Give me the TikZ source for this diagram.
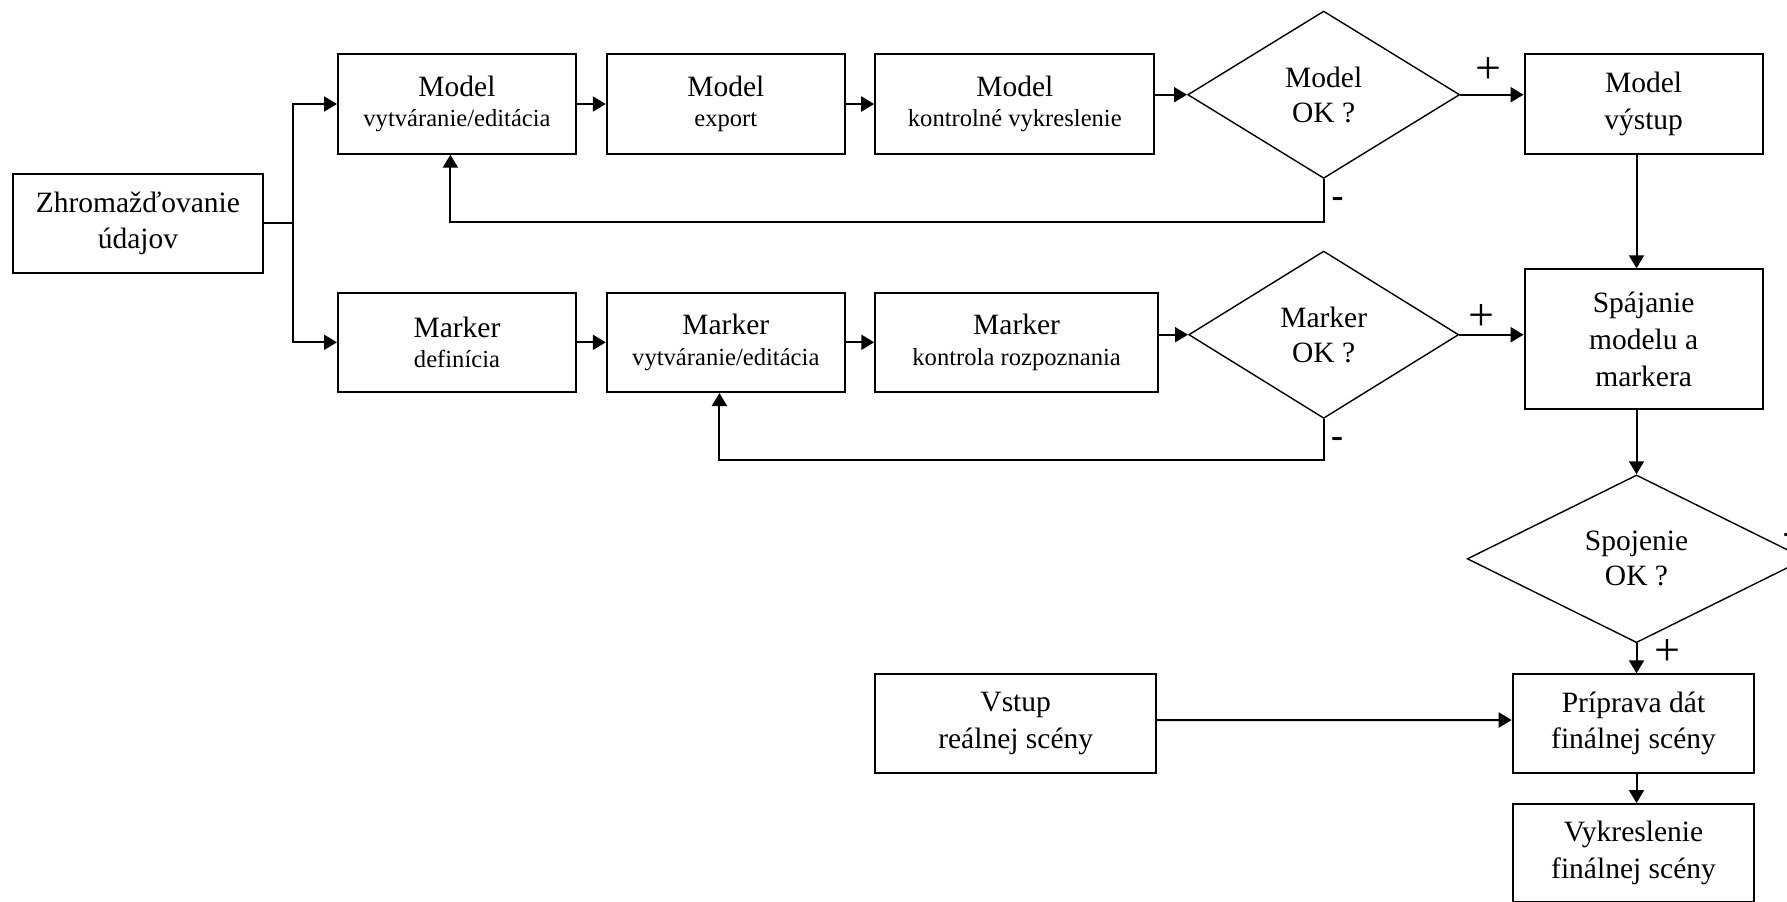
\documentclass[tikz,border=0pt]{standalone}
\usepackage{fontspec}
\setmainfont{Liberation Serif}
\usetikzlibrary{arrows.meta,shapes.geometric,calc}

% second, smaller line inside the process boxes
\newcommand{\subline}[1]{{\fontsize{12.3}{15.35}\selectfont #1}}

\begin{document}
\begin{tikzpicture}[x=0.5pt,y=-0.5pt,
  box/.style={draw,line width=1pt,inner sep=0pt,align=center,
              font=\fontsize{14.75}{18.3}\selectfont},
  twolevel/.style={box,font=\fontsize{14.75}{15.35}\selectfont},
  decision/.style={diamond,draw,line width=0.7pt,inner sep=0pt,align=center,
              font=\fontsize{14.75}{17.5}\selectfont},
  arr/.style={line width=1pt,-{Triangle[length=6.5pt,width=7.5pt]}},
  link/.style={line width=1pt},
  plusmark/.style={inner sep=0pt,font=\fontsize{23}{23}\selectfont},
  minusmark/.style={inner sep=0pt,font=\bfseries\fontsize{18}{18}\selectfont},
]
\useasboundingbox (0,0) rectangle (1787,901);

% data collection
\node[box,minimum width=125.15pt,minimum height=49.5pt] (zh) at (137.9,223.2)
  {Zhromažďovanie\\údajov};

% model branch
\node[twolevel,minimum width=119pt,minimum height=49.7pt] (m1) at (457,104)
  {Model\\\subline{vytváranie/editácia}};
\node[twolevel,minimum width=119pt,minimum height=49.7pt] (m2) at (725.8,104)
  {Model\\\subline{export}};
\node[twolevel,minimum width=139.6pt,minimum height=49.7pt] (m3) at (1014.8,104)
  {Model\\\subline{kontrolné vykreslenie}};
\node[decision,minimum width=136pt,minimum height=83.65pt] (d1) at (1323.7,94.7)
  {Model\\OK ?};
\node[box,minimum width=119pt,minimum height=49.7pt] (mout) at (1643.6,104)
  {Model\\výstup};

% marker branch
\node[twolevel,minimum width=119pt,minimum height=49.7pt] (k1) at (457,342.3)
  {Marker\\\subline{definícia}};
\node[twolevel,minimum width=119pt,minimum height=49.7pt] (k2) at (725.8,342.3)
  {Marker\\\subline{vytváranie/editácia}};
\node[twolevel,minimum width=141.35pt,minimum height=49.7pt] (k3) at (1016.6,342.3)
  {Marker\\\subline{kontrola rozpoznania}};
\node[decision,minimum width=135pt,minimum height=83.65pt] (d2) at (1323.7,334.7)
  {Marker\\OK ?};
\node[box,minimum width=119pt,minimum height=70pt] (spaj) at (1643.6,339.3)
  {Spájanie\\modelu a\\markera};

% merging and final scene
\node[decision,minimum width=169.3pt,minimum height=83.85pt] (d3) at (1636.5,558.8)
  {Spojenie\\OK ?};
\node[box,minimum width=120.8pt,minimum height=49.2pt] (prip) at (1633.5,723.5)
  {Príprava dát\\finálnej scény};
\node[box,minimum width=140.35pt,minimum height=49.6pt] (vstup) at (1015.7,723.7)
  {Vstup\\reálnej scény};
\node[box,minimum width=120.8pt,minimum height=49.2pt] (vykr) at (1633.5,853.2)
  {Vykreslenie\\finálnej scény};

% helper points for the routed connectors
\coordinate (split) at (293.4,0);
\coordinate (col) at (1636.5,0);
\coordinate (fb1) at (450.4,221.5);
\coordinate (fb2) at (719.4,460);

% fork from data collection
\draw[link] (zh.east) -- (zh.east -| split);
\draw[arr] (zh.east -| split) |- (m1.west);
\draw[arr] (zh.east -| split) |- (k1.west);

% model chain
\draw[arr] (m1) -- (m2);
\draw[arr] (m2) -- (m3);
\draw[arr] (d1.west -| m3.east) -- (d1.west);
\draw[arr] (d1.east) -- (d1.east -| mout.west);
\draw[arr] (d1.south) |- (fb1) -- (fb1 |- m1.south);

% marker chain
\draw[arr] (k1) -- (k2);
\draw[arr] (k2) -- (k3);
\draw[arr] (d2.west -| k3.east) -- (d2.west);
\draw[arr] (d2.east) -- (d2.east -| spaj.west);
\draw[arr] (d2.south) |- (fb2) -- (fb2 |- k2.south);

% right column
\draw[arr] (mout.south -| col) -- (spaj.north -| col);
\draw[arr] (spaj.south -| col) -- (d3.north);
\draw[arr] (d3.south) -- (prip.north -| col);
\draw[arr] (prip.south -| col) -- (vykr.north -| col);
\draw[arr] ($(vstup.east)+(0,-3.5)$) -- ($(prip.west)+(0,-3.5)$);

% branch marks
\node[plusmark] (p1) at (1488,70) {+};
\node[plusmark] (p2) at (1481,317) {+};
\node[plusmark] (p3) at (1667,652) {+};
\node[minusmark] (n1) at (1337.5,202) {-};
\node[minusmark] (n2) at (1337,442) {-};
\node[minusmark] (n3) at (1789,538) {-};
\end{tikzpicture}
\end{document}
